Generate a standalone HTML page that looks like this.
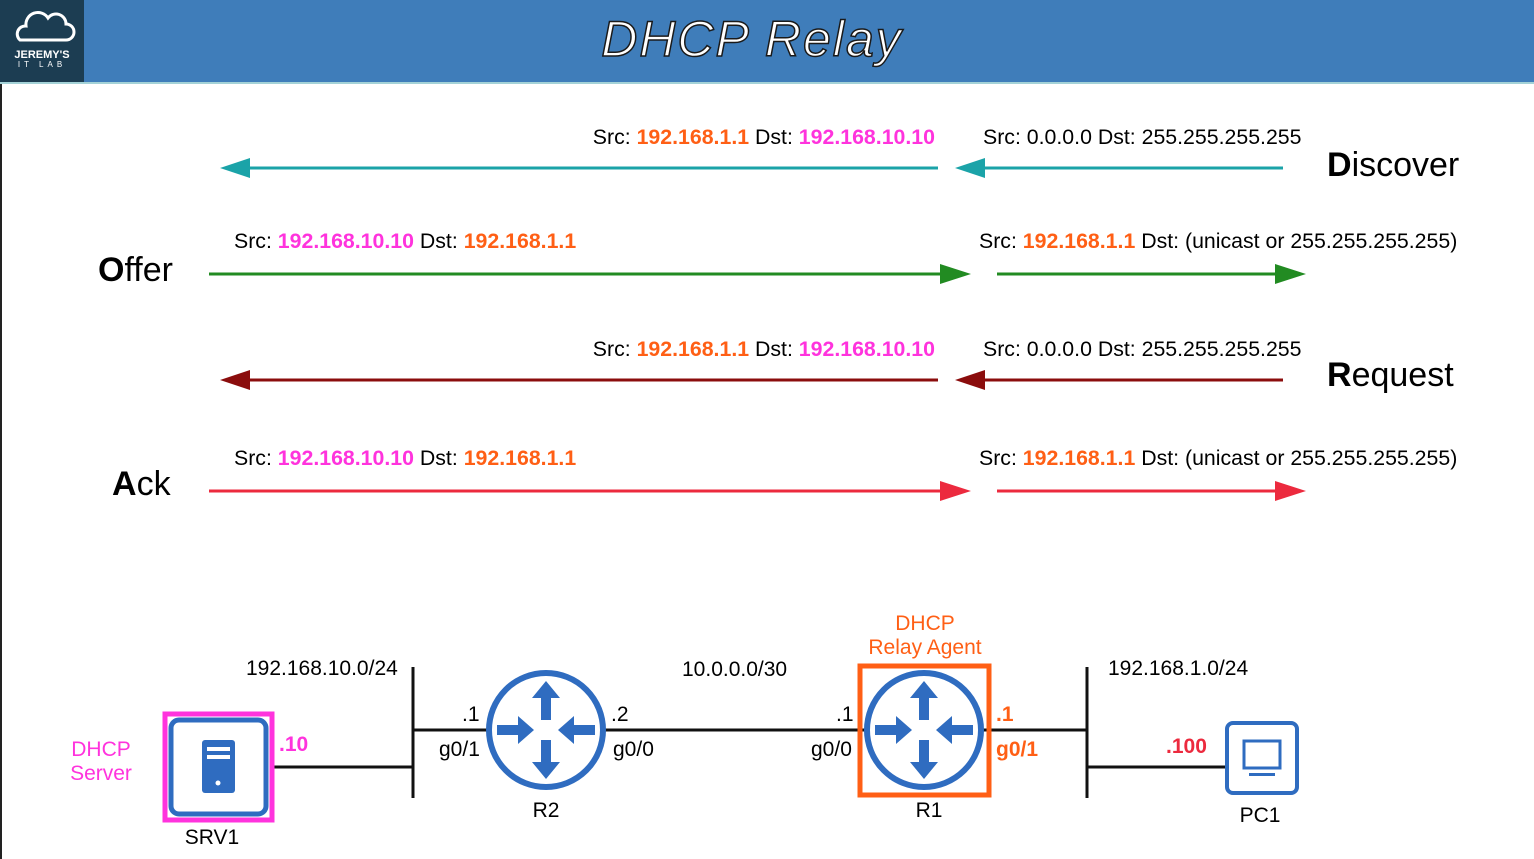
<!DOCTYPE html>
<html><head><meta charset="utf-8"><style>
html,body{margin:0;padding:0;background:#fff;}
svg{display:block;font-family:"Liberation Sans",sans-serif;}
</style></head><body>
<svg width="1534" height="859" viewBox="0 0 1534 859" xmlns="http://www.w3.org/2000/svg">
<defs>
<g id="router">
<circle cx="0" cy="0" r="57" fill="#fff" stroke="#2f6cc0" stroke-width="6"/>
<g fill="#2f6cc0">
<polygon points="0,-49 -14,-32 -5,-32 -5,-10 5,-10 5,-32 14,-32"/>
<polygon points="0,49 -14,32 -5,32 -5,10 5,10 5,32 14,32"/>
<polygon points="-12,0 -28,-14 -28,-5 -49,-5 -49,5 -28,5 -28,14"/>
<polygon points="12,0 28,-14 28,-5 49,-5 49,5 28,5 28,14"/>
</g>
</g>
</defs>
<rect x="0" y="0" width="1534" height="82" fill="#3f7dba"/>
<rect x="0" y="0" width="84" height="82" fill="#1c3d52"/>
<rect x="0" y="82" width="1534" height="2" fill="#4aa6b0" opacity="0.5"/>
<rect x="0" y="84" width="2" height="775" fill="#222"/>
<g fill="none" stroke="#fff" stroke-width="3">
<path d="M20,40 a8,8 0 0 1 6,-14 a12,12 0 0 1 22,-8 a10,10 0 0 1 18,6 a8,8 0 0 1 0,16 z"/>
</g>
<text x="42" y="58" fill="#fff" font-size="11" font-weight="bold" text-anchor="middle">JEREMY'S</text>
<text x="42" y="67" fill="#fff" font-size="8" text-anchor="middle" letter-spacing="4">IT LAB</text>
<text x="752" y="56" fill="#fff" stroke="#1a1a1a" stroke-width="1.5" font-size="50" font-style="italic" text-anchor="middle" letter-spacing="2">DHCP Relay</text>

<g font-size="21.3">
<text x="935" y="144" text-anchor="end">Src: <tspan fill="#ff5f15" font-weight="bold">192.168.1.1</tspan> Dst: <tspan fill="#ff33dd" font-weight="bold">192.168.10.10</tspan></text>
<text x="983" y="144">Src: 0.0.0.0 Dst: 255.255.255.255</text>
<text x="234" y="248">Src: <tspan fill="#ff33dd" font-weight="bold">192.168.10.10</tspan> Dst: <tspan fill="#ff5f15" font-weight="bold">192.168.1.1</tspan></text>
<text x="979" y="248">Src: <tspan fill="#ff5f15" font-weight="bold">192.168.1.1</tspan> Dst: (unicast or 255.255.255.255)</text>
<text x="935" y="356" text-anchor="end">Src: <tspan fill="#ff5f15" font-weight="bold">192.168.1.1</tspan> Dst: <tspan fill="#ff33dd" font-weight="bold">192.168.10.10</tspan></text>
<text x="983" y="356">Src: 0.0.0.0 Dst: 255.255.255.255</text>
<text x="234" y="465">Src: <tspan fill="#ff33dd" font-weight="bold">192.168.10.10</tspan> Dst: <tspan fill="#ff5f15" font-weight="bold">192.168.1.1</tspan></text>
<text x="979" y="465">Src: <tspan fill="#ff5f15" font-weight="bold">192.168.1.1</tspan> Dst: (unicast or 255.255.255.255)</text>
</g>
<g font-size="34">
<text x="1327" y="176"><tspan font-weight="bold">D</tspan>iscover</text>
<text x="98" y="281"><tspan font-weight="bold">O</tspan>ffer</text>
<text x="1327" y="386"><tspan font-weight="bold">R</tspan>equest</text>
<text x="112" y="495"><tspan font-weight="bold">A</tspan>ck</text>
</g>
<g stroke-width="3">
<line x1="245" y1="168" x2="938" y2="168" stroke="#1ba3a8"/>
<polygon points="220,168 250,158 250,178" fill="#1ba3a8"/>
<line x1="980" y1="168" x2="1283" y2="168" stroke="#1ba3a8"/>
<polygon points="955,168 985,158 985,178" fill="#1ba3a8"/>
<line x1="209" y1="274" x2="945" y2="274" stroke="#228b22"/>
<polygon points="971,274 940,264 940,284" fill="#228b22"/>
<line x1="997" y1="274" x2="1280" y2="274" stroke="#228b22"/>
<polygon points="1306,274 1275,264 1275,284" fill="#228b22"/>
<line x1="245" y1="380" x2="938" y2="380" stroke="#8b0d0d"/>
<polygon points="220,380 250,370 250,390" fill="#8b0d0d"/>
<line x1="980" y1="380" x2="1283" y2="380" stroke="#8b0d0d"/>
<polygon points="955,380 985,370 985,390" fill="#8b0d0d"/>
<line x1="209" y1="491" x2="945" y2="491" stroke="#ec2a3e"/>
<polygon points="971,491 940,481 940,501" fill="#ec2a3e"/>
<line x1="997" y1="491" x2="1280" y2="491" stroke="#ec2a3e"/>
<polygon points="1306,491 1275,481 1275,501" fill="#ec2a3e"/>
</g>

<g stroke="#111" stroke-width="3">
<line x1="413" y1="667" x2="413" y2="798"/>
<line x1="1087" y1="667" x2="1087" y2="798"/>
<line x1="274" y1="767" x2="413" y2="767"/>
<line x1="413" y1="730" x2="490" y2="730"/>
<line x1="603" y1="730" x2="868" y2="730"/>
<line x1="980" y1="730" x2="1087" y2="730"/>
<line x1="1087" y1="767" x2="1226" y2="767"/>
</g>
<rect x="165" y="714" width="107" height="106" fill="#fff" stroke="#ff33dd" stroke-width="5"/>
<rect x="171" y="720" width="95" height="94" rx="8" fill="#fff" stroke="#2f6cc0" stroke-width="5"/>
<rect x="202" y="740" width="33" height="53" rx="3" fill="#2f6cc0"/>
<rect x="207" y="747" width="23" height="4" fill="#fff"/>
<rect x="207" y="755" width="23" height="4" fill="#fff"/>
<circle cx="218" cy="783" r="2.5" fill="#fff"/>
<use href="#router" x="546" y="730"/>
<rect x="860" y="666" width="129" height="129" fill="none" stroke="#ff5f15" stroke-width="5"/>
<use href="#router" x="924" y="730"/>
<rect x="1227" y="723" width="70" height="70" rx="6" fill="#fff" stroke="#2f6cc0" stroke-width="4"/>
<rect x="1244" y="741" width="36" height="27" fill="none" stroke="#2f6cc0" stroke-width="3"/>
<rect x="1249" y="773" width="26" height="3" fill="#2f6cc0"/>

<g font-size="21">
<text x="246" y="675">192.168.10.0/24</text>
<text x="682" y="676">10.0.0.0/30</text>
<text x="1108" y="675">192.168.1.0/24</text>
<text x="462" y="721">.1</text>
<text x="439" y="756">g0/1</text>
<text x="611" y="721">.2</text>
<text x="613" y="756">g0/0</text>
<text x="836" y="721">.1</text>
<text x="811" y="756">g0/0</text>
<text x="996" y="721" fill="#ff5f15" font-weight="bold">.1</text>
<text x="996" y="756" fill="#ff5f15" font-weight="bold">g0/1</text>
<text x="1166" y="753" fill="#ec2a3e" font-weight="bold">.100</text>
<text x="279" y="751" fill="#ff33dd" font-weight="bold">.10</text>
<text x="101" y="756" fill="#ff33dd" text-anchor="middle">DHCP</text>
<text x="101" y="780" fill="#ff33dd" text-anchor="middle">Server</text>
<text x="212" y="844" text-anchor="middle">SRV1</text>
<text x="546" y="817" text-anchor="middle">R2</text>
<text x="929" y="817" text-anchor="middle">R1</text>
<text x="1260" y="822" text-anchor="middle">PC1</text>
<text x="925" y="630" fill="#ff5f15" text-anchor="middle">DHCP</text>
<text x="925" y="654" fill="#ff5f15" text-anchor="middle">Relay Agent</text>
</g>
</svg>
</body></html>
